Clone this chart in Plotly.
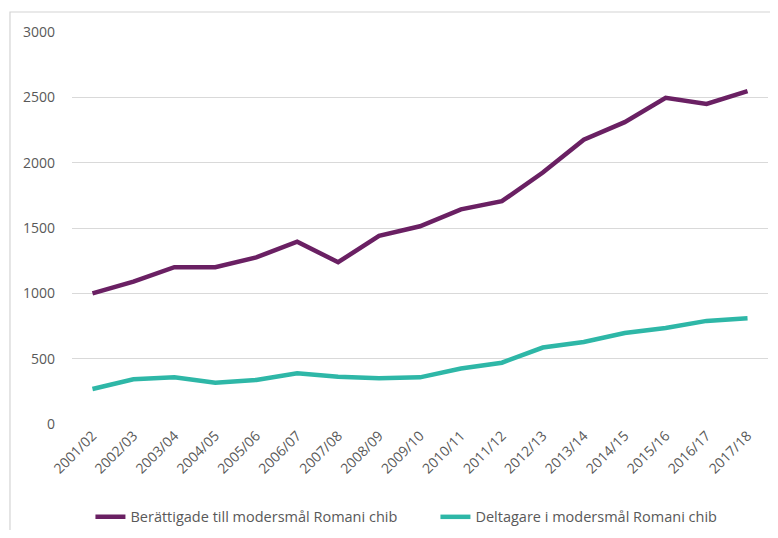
import plotly.graph_objects as go

categories = ["2001/02", "2002/03", "2003/04", "2004/05", "2005/06", "2006/07",
              "2007/08", "2008/09", "2009/10", "2010/11", "2011/12", "2012/13",
              "2013/14", "2014/15", "2015/16", "2016/17", "2017/18"]
berattigade = [1000, 1090, 1200, 1200, 1275, 1395, 1238, 1440, 1513, 1643, 1705, 1925,
               2175, 2310, 2497, 2450, 2547]
deltagare = [268, 342, 357, 316, 337, 388, 362, 350, 357, 425, 469, 585,
             628, 697, 734, 789, 809]
series_names = ["Berättigade till modersmål Romani chib", "Deltagare i modersmål Romani chib"]
y_ticks = [0, 500, 1000, 1500, 2000, 2500, 3000]

fig = go.Figure()
fig.add_trace(go.Scatter(x=categories, y=berattigade, mode="lines", name=series_names[0],
                         line=dict(color="#6A2063", width=4.5)))
fig.add_trace(go.Scatter(x=categories, y=deltagare, mode="lines", name=series_names[1],
                         line=dict(color="#2EB7A7", width=4.5)))

fig.update_layout(
    width=762, height=522,
    margin=dict(l=64, r=2, t=24, b=106, autoexpand=False),
    paper_bgcolor="white", plot_bgcolor="white",
    font=dict(family="Open Sans, Liberation Sans, sans-serif", color="#595959", size=14),
    showlegend=True,
    legend=dict(orientation="h", x=0.0265, xanchor="left", y=-0.237, yanchor="middle",
                font=dict(size=14.5, color="#595959"), tracegroupgap=0,
                entrywidth=300, entrywidthmode="pixels", bgcolor="rgba(0,0,0,0)"),
    shapes=[dict(type="rect", xref="paper", yref="paper", x0=-0.0891, x1=1.1,
                 y0=-0.35, y1=1.051, line=dict(color="#d4d4d4", width=1.2),
                 fillcolor="rgba(0,0,0,0)", layer="above")],
)
fig.update_xaxes(type="category", range=[-0.5, 16.5], tickangle=-45, showgrid=False,
                 showline=False, zeroline=False, ticks="", automargin=False,
                 tickfont=dict(size=14, color="#595959"))
fig.update_yaxes(range=[0, 3000], tickvals=y_ticks, showgrid=True, gridcolor="#d9d9d9",
                 gridwidth=1, zeroline=False, showline=False, ticks="", automargin=False,
                 ticklabelstandoff=16, tickfont=dict(size=14, color="#595959"))

fig.write_html("out.html")
